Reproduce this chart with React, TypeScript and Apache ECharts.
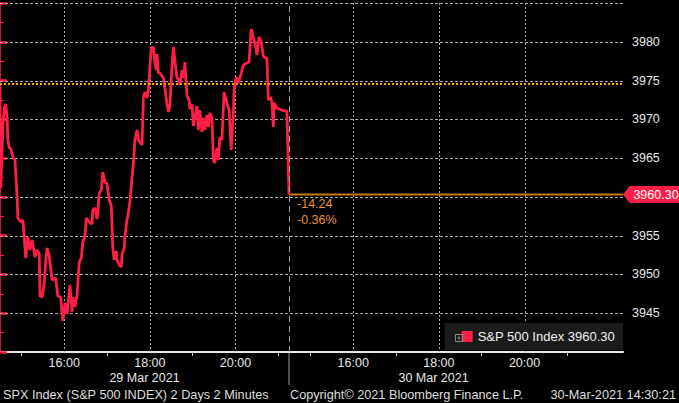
import React, { useEffect, useRef } from 'react';
import * as echarts from 'echarts';

// minutes since 14:30 on 29 Mar (day 2 session starts at 405)
const minutes = [
  0, 1, 4, 6, 8, 10, 11, 13, 15, 18, 21, 24, 25, 29, 32, 34, 36, 39, 42, 45,
  49, 52, 55, 56, 59, 62, 64, 66, 69, 73, 76, 78, 81, 85, 88, 91, 94, 98, 101, 102,
  105, 108, 111, 114, 116, 119, 121, 125, 129, 130, 133, 136, 137, 139, 142, 144, 147, 150, 153, 156,
  158, 160, 163, 164, 167, 170, 171, 174, 175, 178, 179, 182, 185, 187, 189, 192, 194, 196, 199, 201,
  203, 206, 208, 210, 212, 215, 217, 219, 220, 222, 224, 227, 229, 231, 234, 236, 238, 241, 243, 245,
  248, 251, 252, 255, 258, 259, 262, 265, 266, 269, 271, 273, 276, 278, 280, 283, 285, 287, 290, 292,
  294, 297, 299, 301, 304, 306, 308, 311, 314, 318, 321, 324, 327, 328, 331, 334, 338, 341, 346, 349,
  352, 355, 358, 360, 363, 366, 369, 372, 374, 376, 379, 381, 383, 384, 388, 394, 402, 405,
];
const prices = [
  3974.30, 3961.15, 3969.27, 3971.46, 3971.98, 3970.17, 3967.34, 3966.30, 3966.30, 3965.14,
  3964.76, 3959.99, 3957.28, 3956.76, 3957.02, 3954.83, 3952.12, 3954.83, 3953.15, 3954.44,
  3952.25, 3953.15, 3952.64, 3947.22, 3947.09, 3948.90, 3951.60, 3953.41, 3952.38, 3949.28,
  3949.41, 3949.54, 3947.22, 3947.09, 3944.00, 3946.32, 3944.90, 3948.64, 3945.16, 3947.09,
  3945.80, 3947.35, 3951.60, 3952.12, 3954.18, 3954.96, 3957.28, 3956.76, 3956.50, 3958.31,
  3958.57, 3957.15, 3957.79, 3960.50, 3960.89, 3963.21, 3961.92, 3961.66, 3959.60, 3958.83,
  3953.54, 3951.86, 3953.02, 3951.86, 3951.22, 3950.96, 3952.64, 3953.41, 3954.83, 3957.15,
  3957.41, 3959.34, 3962.56, 3964.37, 3967.34, 3968.62, 3967.34, 3967.08, 3966.69, 3972.88,
  3973.52, 3972.75, 3973.78, 3976.75, 3979.20, 3979.33, 3977.39, 3976.36, 3978.42, 3975.97,
  3975.97, 3975.59, 3975.33, 3974.04, 3971.98, 3970.95, 3971.72, 3976.88, 3979.33, 3977.65,
  3975.33, 3975.07, 3974.43, 3976.36, 3975.33, 3977.39, 3973.01, 3972.49, 3971.33, 3971.98,
  3969.14, 3970.17, 3971.72, 3968.62, 3971.20, 3968.37, 3970.17, 3968.62, 3970.56, 3969.01,
  3970.82, 3970.17, 3964.76, 3964.37, 3966.30, 3964.76, 3967.72, 3967.34, 3973.52, 3972.11,
  3971.20, 3966.05, 3970.82, 3973.78, 3975.46, 3974.68, 3975.97, 3977.01, 3977.26, 3977.39,
  3981.65, 3980.49, 3979.46, 3978.30, 3980.62, 3979.97, 3978.17, 3977.91, 3977.91, 3972.49,
  3972.88, 3972.23, 3969.01, 3972.11, 3971.46, 3971.20, 3971.07, 3960.30,
];

const seriesName = 'S&P 500 Index';
const lastPrice = 3960.3;
const prevClose = 3974.54;
const netChange = '-14.24';
const pctChange = '-0.36%';
const lastLineMinutes = [405, 873];
const axisMinMinute = 0;
const axisMaxMinute = 873;
const yMin = 3940;
const yMax = 3985;
const yStep = 5;
const yGridValues = [3945, 3950, 3955, 3960, 3965, 3970, 3975, 3980, 3985];
const hiddenYLabels = [3940, 3960, 3985];
const timeLabelMinutes = [90, 210, 330, 495, 615, 735];
const timeLabels = ['16:00', '18:00', '20:00', '16:00', '18:00', '20:00'];
const hourTickMinutes = [30, 150, 270, 390, 435, 555, 675, 795];
const dateLabelMinutes = [202.5, 607.5];
const dateLabels = ['29 Mar 2021', '30 Mar 2021'];
const dayBreakMinute = 405;
const footerLeft = 'SPX Index (S&P 500 INDEX) 2 Days 2 Minutes';
const footerMid = 'Copyright\u00a9 2021 Bloomberg Finance L.P.';
const footerRight = '30-Mar-2021 14:30:21';

const FONT = '"Liberation Sans", Arial, sans-serif';
const RED = '#ff1e46';
const ORANGE = '#f5a800';
const GRID = '#a8a8a8';

export default function App() {
  const ref = useRef<HTMLDivElement>(null);

  useEffect(() => {
    document.body.style.margin = '0';
    document.body.style.background = '#000';
    if (!ref.current) return;
    const chart = echarts.init(ref.current, undefined, { renderer: 'svg' });

    const option: any = {
      animation: false,
      backgroundColor: '#000',
      grid: { left: 0, right: 56, top: 3, bottom: 51, containLabel: false },
      legend: {
        data: [seriesName],
        right: 56,
        bottom: 53,
        orient: 'horizontal',
        backgroundColor: '#1b1b1b',
        padding: [7, 8, 7, 17],
        icon: 'rect',
        itemWidth: 11,
        itemHeight: 11,
        itemGap: 0,
        selectedMode: false,
        z: 4,
        formatter: (name: string) => `${name} ${lastPrice.toFixed(2)}`,
        textStyle: { color: '#f0f0f0', fontSize: 13, fontFamily: FONT, padding: [0, 0, 0, 0] },
      },
      xAxis: [
        {
          type: 'value',
          min: axisMinMinute,
          max: axisMaxMinute,
          position: 'bottom',
          axisLine: { show: true, onZero: false, lineStyle: { color: '#e8e8e8', width: 2 } },
          axisTick: { show: true, customValues: hourTickMinutes, length: 4, lineStyle: { color: '#bdbdbd', width: 1 } },
          axisLabel: {
            show: true,
            customValues: timeLabelMinutes,
            formatter: (v: number) => {
              const i = timeLabelMinutes.indexOf(v);
              return i >= 0 ? timeLabels[i] : '';
            },
            color: '#e6e6e6',
            fontSize: 12.5,
            fontFamily: FONT,
            margin: 4,
          },
          splitLine: { show: false },
        },
        {
          type: 'value',
          min: axisMinMinute,
          max: axisMaxMinute,
          position: 'bottom',
          offset: 15,
          axisLine: { show: false },
          axisTick: { show: false },
          axisLabel: {
            show: true,
            customValues: dateLabelMinutes,
            formatter: (v: number) => {
              const i = dateLabelMinutes.indexOf(v);
              return i >= 0 ? dateLabels[i] : '';
            },
            color: '#e6e6e6',
            fontSize: 12.5,
            fontFamily: FONT,
            margin: 4,
          },
          splitLine: { show: false },
        },
      ],
      yAxis: {
        type: 'value',
        position: 'right',
        min: yMin,
        max: yMax,
        interval: yStep,
        axisLine: { show: true, lineStyle: { color: RED, width: 1.5 } },
        axisTick: { show: true, length: 7, lineStyle: { color: RED, width: 2.5 } },
        minorTick: { show: true, splitNumber: 2, length: 4, lineStyle: { color: RED, width: 1 } },
        axisLabel: {
          color: '#e6e6e6',
          fontSize: 12.5,
          fontFamily: FONT,
          margin: 9,
          formatter: (v: number) => (hiddenYLabels.indexOf(v) >= 0 ? '' : String(v)),
        },
        splitLine: { show: false },
      },
      series: [
        {
          name: 'last',
          type: 'line',
          xAxisIndex: 0,
          data: lastLineMinutes.map((m) => [m, lastPrice]),
          showSymbol: false,
          clip: false,
          z: 2,
          lineStyle: { color: '#c97800', width: 2 },
          itemStyle: { color: '#c97800' },
          silent: true,
          markLine: {
            silent: true,
            symbol: ['none', 'none'],
            label: { show: false },
            data: [
              { yAxis: prevClose, lineStyle: { color: ORANGE, type: [2, 2], width: 2 } },
              { xAxis: dayBreakMinute, lineStyle: { color: '#9a9a9a', type: [6, 4], width: 1 } },
            ],
          },
          markPoint: {
            silent: true,
            data: [
              {
                coord: [axisMaxMinute, lastPrice],
                symbol: 'path://M0,8L7,0L60,0L60,16L7,16Z',
                symbolSize: [58, 17],
                symbolOffset: [29, 0],
                symbolKeepAspect: false,
                itemStyle: { color: RED },
                label: {
                  show: true,
                  position: 'inside',
                  formatter: lastPrice.toFixed(2),
                  color: '#ffffff',
                  fontSize: 12.5,
                  fontFamily: FONT,
                  offset: [4, 0],
                },
              },
            ],
          },
        },
        {
          name: seriesName,
          type: 'line',
          xAxisIndex: 0,
          data: minutes.map((m, i) => [m, prices[i]]),
          showSymbol: false,
          z: 3,
          lineStyle: { color: RED, width: 2.8 },
          itemStyle: { color: RED },
        },
      ],
      graphic: [
        { type: 'text', left: 3, top: 388, style: { text: footerLeft, fill: '#dedede', font: `12.7px ${FONT}` } },
        { type: 'text', left: 290, top: 388, style: { text: footerMid, fill: '#dedede', font: `12.7px ${FONT}` } },
        { type: 'text', right: 3, top: 388, style: { text: footerRight, fill: '#dedede', font: `12.7px ${FONT}` } },
      ],
    };

    chart.setOption(option);

    const toPx = (m: number, v: number) =>
      chart.convertToPixel({ xAxisIndex: 0, yAxisIndex: 0 }, [m, v]) as number[];
    const [bx, by] = toPx(dayBreakMinute, yMin);
    const [, ly] = toPx(dayBreakMinute, lastPrice);
    const [, topY] = toPx(dayBreakMinute, yMax);
    const [leftX] = toPx(axisMinMinute, yMin);
    const [rightX] = toPx(axisMaxMinute, yMin);

    const vGrid = timeLabelMinutes.map((m) => {
      const x = Math.round(toPx(m, yMin)[0]) + 0.5;
      return {
        type: 'line',
        z: 1,
        silent: true,
        shape: { x1: x, y1: topY, x2: x, y2: by },
        style: { stroke: GRID, lineWidth: 1, lineDash: [2, 2] },
      };
    });
    const hGrid = yGridValues.map((v) => {
      const y = Math.round(toPx(axisMinMinute, v)[1]) + 0.5;
      return {
        type: 'polyline',
        z: 1,
        silent: true,
        shape: { points: [[leftX, y], [rightX, y]] },
        style: { stroke: GRID, fill: 'none', lineWidth: 1, lineDash: [3, 2] },
      };
    });

    chart.setOption({
      graphic: [
        ...option.graphic,
        ...vGrid,
        ...hGrid,
        { type: 'line', shape: { x1: bx, y1: by, x2: bx, y2: 385 }, style: { stroke: '#9a9a9a', lineWidth: 1 }, silent: true },
        { type: 'text', x: bx + 8, y: ly + 9, style: { text: netChange, fill: '#e8922a', font: `12.5px ${FONT}`, verticalAlign: 'middle' } },
        { type: 'text', x: bx + 8, y: ly + 25, style: { text: pctChange, fill: '#e8922a', font: `12.5px ${FONT}`, verticalAlign: 'middle' } },
        {
          type: 'group',
          left: 453,
          top: 332,
          z: 100,
          children: [
            { type: 'rect', z: 100, shape: { x: 0, y: 0, width: 7, height: 7 }, style: { fill: 'none', stroke: '#8c8c8c', lineWidth: 1 } },
            { type: 'line', z: 100, shape: { x1: 2, y1: 3.5, x2: 5, y2: 3.5 }, style: { stroke: '#8c8c8c', lineWidth: 1 } },
            { type: 'line', z: 100, shape: { x1: 3.5, y1: 2, x2: 3.5, y2: 5 }, style: { stroke: '#8c8c8c', lineWidth: 1 } },
          ],
        },
      ],
    });

    return () => chart.dispose();
  }, []);

  return <div ref={ref} style={{ width: 679, height: 403, background: '#000' }} />;
}
